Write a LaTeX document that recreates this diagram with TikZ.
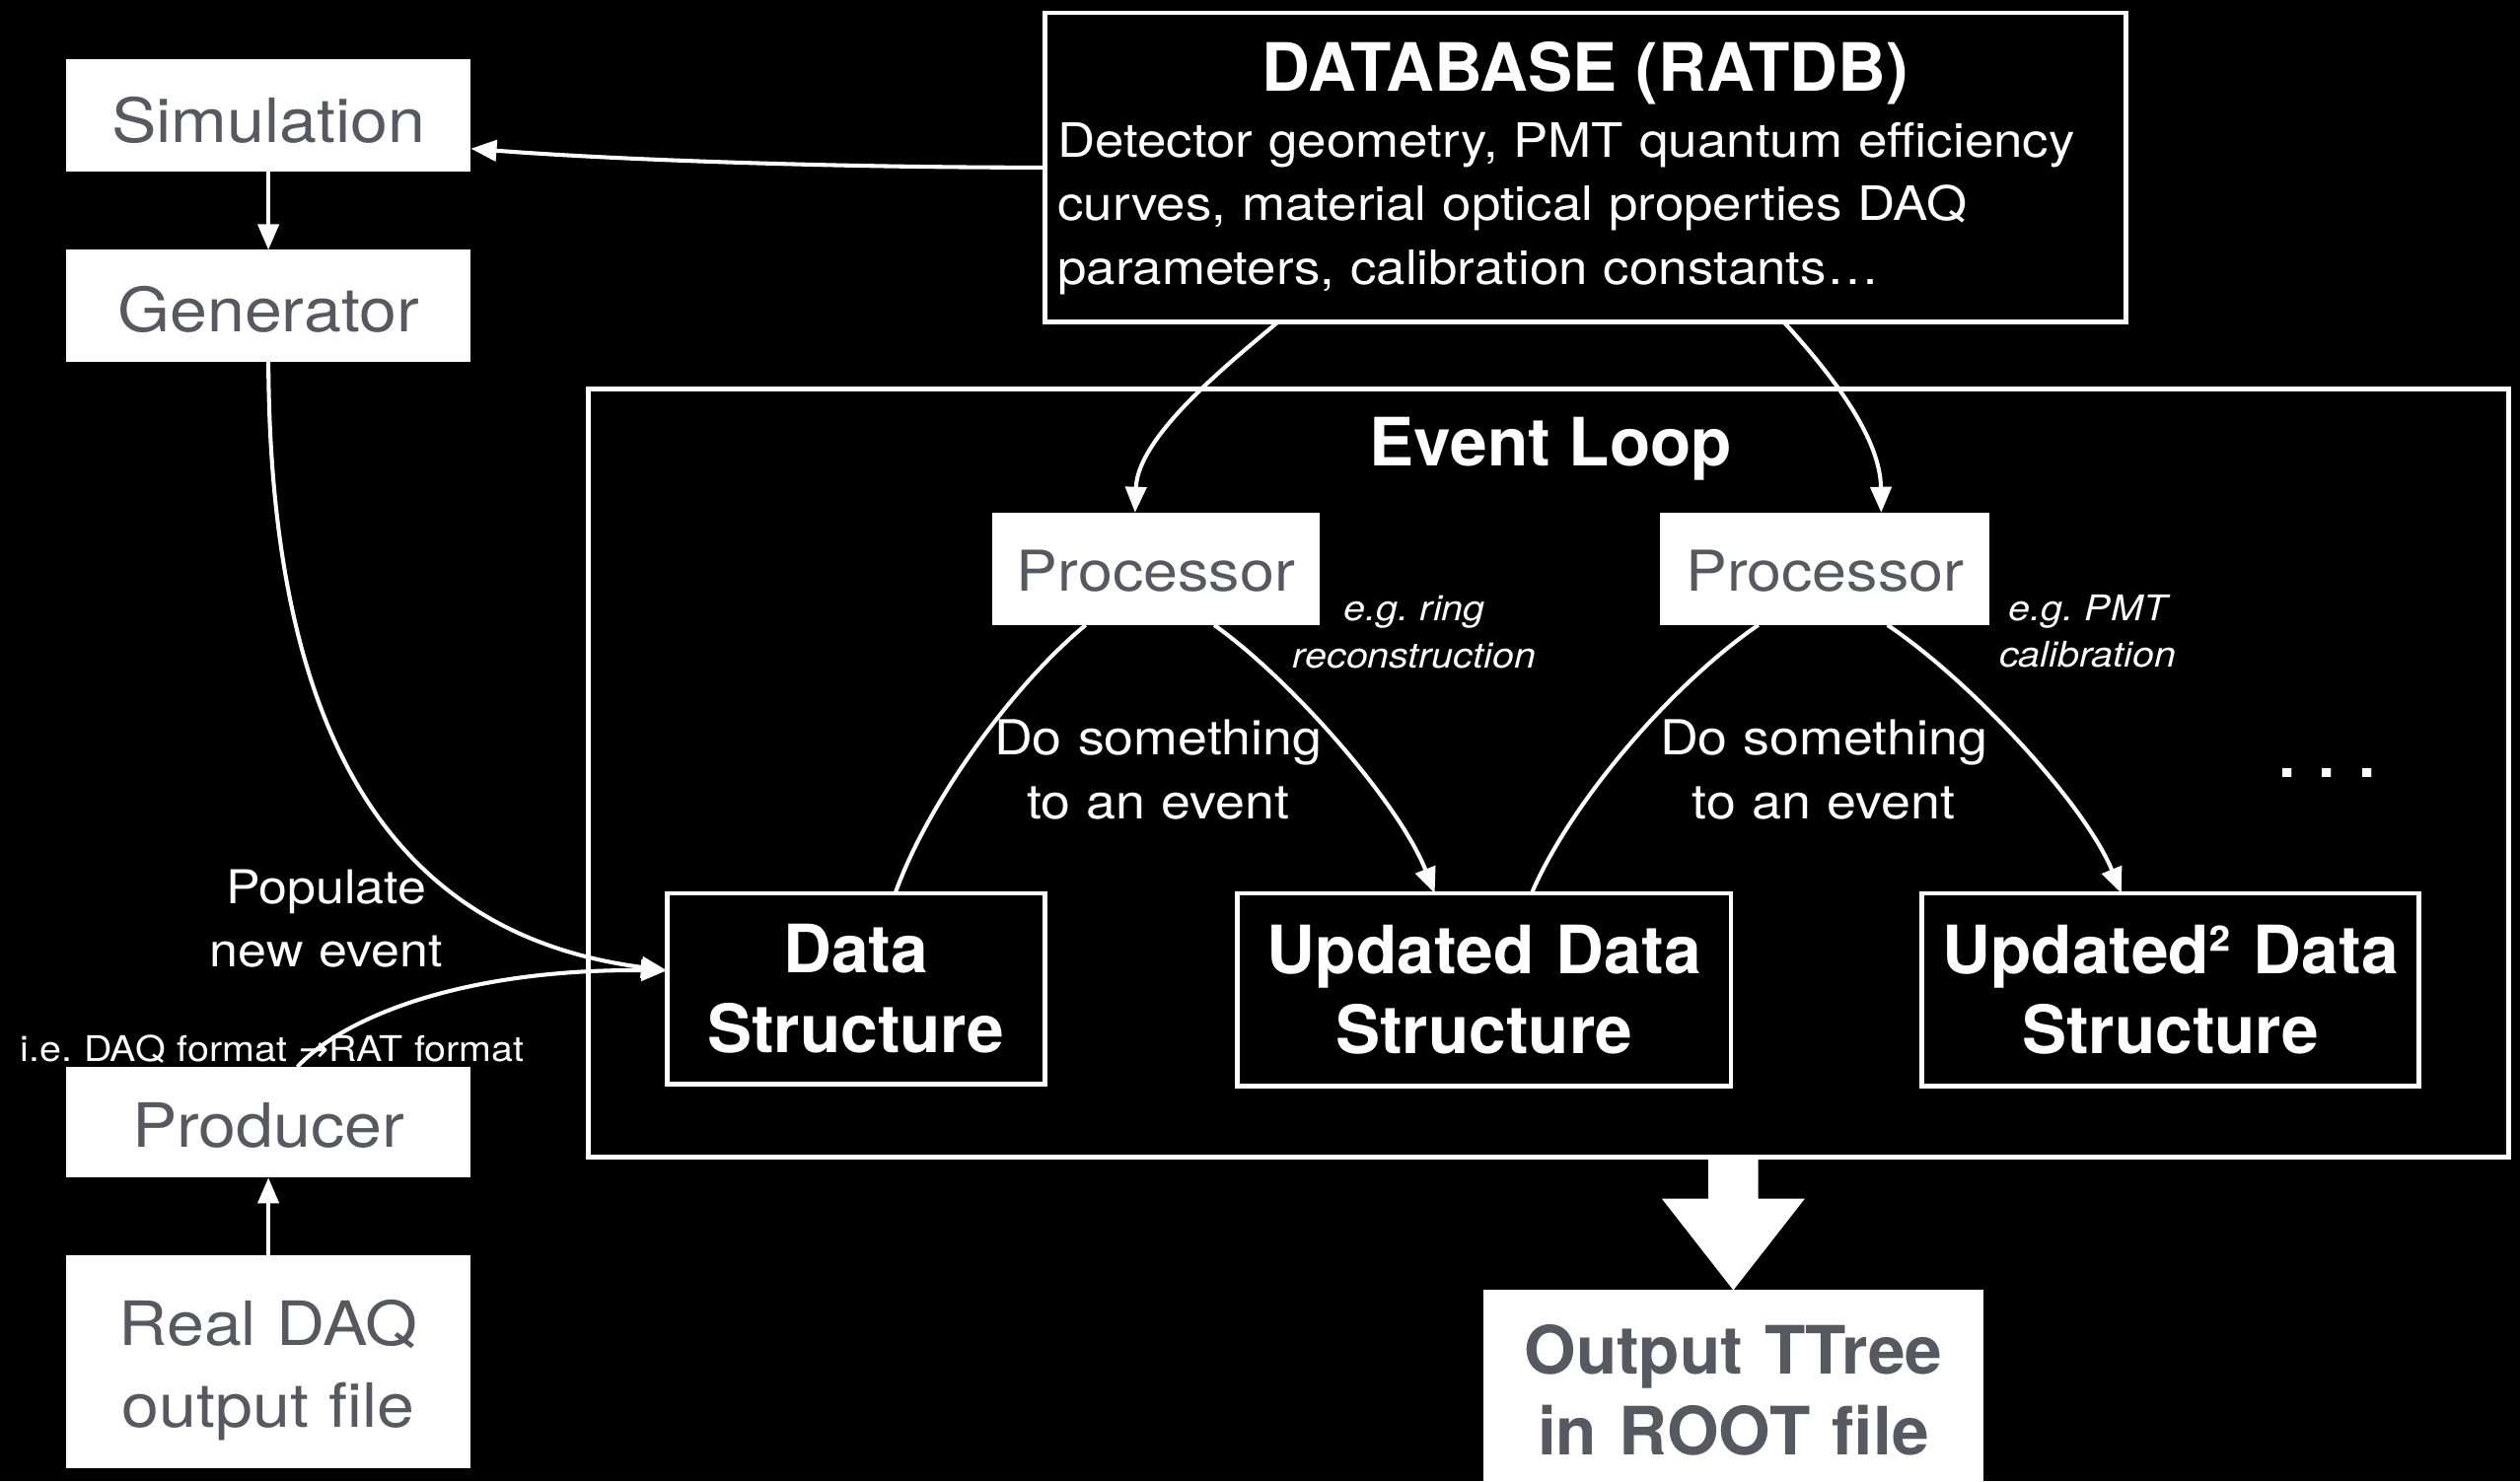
\documentclass[tikz,border=0pt]{standalone}
\usepackage{fontspec}
\setmainfont{TeX Gyre Heros}
\newfontfamily\lightfont[FakeStretch=1.1]{TeX Gyre Heros}
\newfontfamily\symfont{DejaVu Sans}
\usetikzlibrary{arrows.meta,calc}
\definecolor{boxgray}{RGB}{86,90,96}
\begin{document}
\begin{tikzpicture}[x=1pt,y=-1pt,
  lightbox/.style={fill=white, draw=none, inner sep=0pt, outer sep=0pt, text=boxgray,
    align=center, font=\lightfont\fontsize{38}{51}\selectfont},
  darkbox/.style={fill=black, draw=white, line width=3pt, inner sep=0pt, outer sep=0pt,
    text=white, align=center, font=\bfseries\fontsize{41.5}{50}\selectfont,
    text height=29.8pt, text depth=50pt},
  framebox/.style={draw=white, line width=3pt, inner sep=0pt, outer sep=0pt},
  link/.style={draw=white, line width=2.5pt, -{Triangle[length=16pt,width=13pt]}},
  plainlink/.style={draw=white, line width=2.5pt},
  note/.style={text=white, inner sep=0pt, anchor=base, align=center,
    font=\lightfont\fontsize{30}{39.7}\selectfont},
  aside/.style={note, font=\lightfont\itshape\fontsize{22}{29.3}\selectfont},
  heading/.style={text=white, inner sep=0pt, anchor=base,
    font=\bfseries\fontsize{41.5}{50}\selectfont}]

% canvas
\fill[black] (0,0) rectangle (1568,922);
\useasboundingbox (0,0) rectangle (1568,922);

% frames
\node[framebox, minimum width=1195pt, minimum height=478pt] (loop) at (963.5,481) {};
\node[framebox, fill=black, minimum width=673pt, minimum height=192.5pt] (db) at (986.5,104.25) {};
\node[heading] (dbtitle) at (986.5,57) {DATABASE (RATDB)};
\node[text=white, inner sep=0pt, anchor=base west, align=left, text width=660pt,
  font=\lightfont\fontsize{29.5}{39.7}\selectfont] (dbtext) at (658,97.7)
  {Detector geometry, PMT quantum efficiency\\curves, material optical properties DAQ\\parameters, calibration constants…};
\node[heading] (looptitle) at (965,290) {Event Loop};

% left column
\node[lightbox, minimum width=252pt, minimum height=70pt, text height=33pt, text depth=0pt] (sim) at (167,72) {Simulation};
\node[lightbox, minimum width=252pt, minimum height=69.5pt, text height=33pt, text depth=0pt] (gen) at (167,190.25) {Generator};
\node[lightbox, minimum width=252pt, minimum height=69pt, text height=31pt, text depth=0pt] (prod) at (167,698.5) {Producer};
\node[lightbox, minimum width=252pt, minimum height=133pt, text width=250pt, text height=30.8pt, text depth=51pt] (daq) at (167,847.5) {Real DAQ\\output file};

% processors
\node[lightbox, font=\lightfont\fontsize{35}{42}\selectfont, minimum width=203.5pt, minimum height=70pt, text height=28pt, text depth=0pt] (p1) at (719.25,354) {Processor};
\node[lightbox, font=\lightfont\fontsize{35}{42}\selectfont, minimum width=205pt, minimum height=70pt, text height=28pt, text depth=0pt] (p2) at (1135.5,354) {Processor};

% data structures
\node[darkbox, minimum width=235pt, minimum height=119pt, text width=230pt] (ds) at (532.5,615.5) {Data\\Structure};
\node[darkbox, minimum width=307pt, minimum height=120pt, text width=300pt] (uds) at (923.5,616) {Updated Data\\Structure};
\node[darkbox, minimum width=309pt, minimum height=120pt, text width=300pt] (uds2) at (1350.5,616) {Updated² Data\\Structure};

% output
\node[lightbox, font=\bfseries\fontsize{41.5}{50.8}\selectfont, minimum width=311pt, minimum height=124pt,
  text width=305pt, text height=30.8pt, text depth=50.8pt] (out) at (1078.5,865) {Output TTree\\in ROOT file};

% labels
\node[note, text width=240pt] (do1) at (720.6,470) {Do something\\to an event};
\node[note, text width=240pt] (do2) at (1134.8,469.7) {Do something\\to an event};
\node[aside, text width=200pt] (eg1) at (880,386.2) {e.g.\ ring\\reconstruction};
\node[aside, text width=200pt] (eg2) at (1299,386.1) {e.g.\ PMT\\calibration};
\node[note, text width=200pt, font=\lightfont\fontsize{29}{39}\selectfont] (pop) at (203,562.7) {Populate\\new event};
\node[note, text width=360pt, font=\lightfont\fontsize{22}{28}\selectfont] (conv) at (169.4,660.4) {i.e.\ DAQ format {\symfont →}RAT format};
\node[heading, font=\bfseries\fontsize{38}{38}\selectfont] (more) at (1448,484) {. . .};

% connectors
\draw[link] (db.west) .. controls +(-130,0) and +(90,7) .. ($(sim.east)+(0,20.5)$);
\draw[link] (sim.south) -- (gen.north);
\draw[link] (daq.north) -- (prod.south);
\coordinate (dsin) at ($(ds.west)+(0,-11.5)$);
\draw[link] (gen.south) .. controls +(1,235) and +(-170,-22) .. (dsin);
\draw[link] ($(prod.north)+(18,0)$) .. controls +(30,-32) and +(-125,-1) .. (dsin);
\draw[link] ($(db.south west)+(145,0)$) .. controls +(-25,21.5) and +(1.75,-49) .. ($(p1.north)+(-13,0)$);
\draw[link] ($(db.south west)+(460,0)$) .. controls +(25,27.5) and +(-0.5,-49) .. ($(p2.north)+(35,0)$);

% processing arches
\draw[plainlink] ($(ds.north west)+(142,0)$) .. controls +(20,-56) and +(-46,38) .. ($(p1.south west)+(58,0)$);
\draw[link] ($(p1.south west)+(138,0)$) .. controls +(48,34) and +(-22,-56) .. ($(uds.north west)+(122.7,0)$);
\draw[plainlink] ($(uds.north west)+(183,0)$) .. controls +(24,-56) and +(-55,38) .. ($(p2.south west)+(61,0)$);
\draw[link] ($(p2.south west)+(141.4,0)$) .. controls +(52,35) and +(-23,-56) .. ($(uds2.north west)+(124,0)$);

% output arrow
\fill[white] ($(loop.south -| out.north)+(-15.5,0)$) -- ++(31,0) -- ++(0,26) -- ++(29,0)
  -- (out.north) -- ++(-44.5,-57) -- ++(29,0) -- cycle;
\end{tikzpicture}
\end{document}
